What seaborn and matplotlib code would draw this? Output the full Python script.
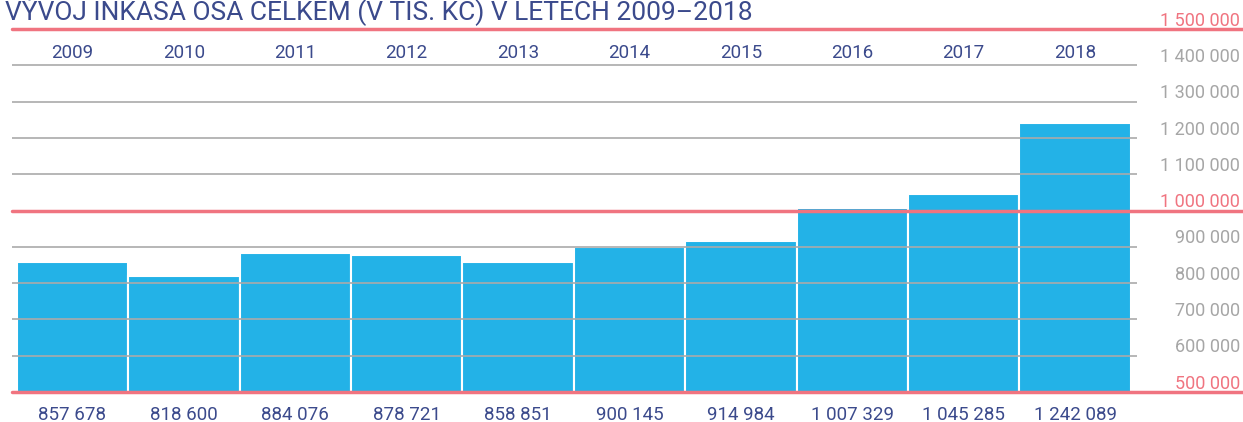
import matplotlib
matplotlib.use("Agg")
import matplotlib.pyplot as plt
import matplotlib.transforms as mtransforms
import seaborn as sns
import pandas as pd

years = ["2009", "2010", "2011", "2012", "2013", "2014", "2015", "2016", "2017", "2018"]
values = [857678, 818600, 884076, 878721, 858851, 900145, 914984, 1007329, 1045285, 1242089]
value_labels = ["857 678", "818 600", "884 076", "878 721", "858 851", "900 145",
                "914 984", "1 007 329", "1 045 285", "1 242 089"]
y_ticks = [500000, 600000, 700000, 800000, 900000, 1000000, 1100000, 1200000, 1300000, 1400000, 1500000]
y_tick_labels = ["500 000", "600 000", "700 000", "800 000", "900 000", "1 000 000",
                 "1 100 000", "1 200 000", "1 300 000", "1 400 000", "1 500 000"]
title = "VÝVOJ INKASA OSA CELKEM (V TIS. KČ) V LETECH 2009–2018"

sns.set_style("white")
plt.rcParams['font.family'] = ['Roboto', 'DejaVu Sans']

BLUE = "#23b2e7"
NAVY = "#3b4a8c"
RED = "#f07480"
GRAY = "#aaaaaa"

W, H = 1243, 422
fig = plt.figure(figsize=(W / 100, H / 100), dpi=100)
ax_left, ax_right = 12, 1137
ax_top, ax_bottom = 29, 392
ax = fig.add_axes([ax_left / W, (H - ax_bottom) / H, (ax_right - ax_left) / W, (ax_bottom - ax_top) / H])

df = pd.DataFrame({"year": years, "value": values})
sns.barplot(data=df, x="year", y="value", color=BLUE, saturation=1, width=1.0,
            edgecolor="white", linewidth=1.5, ax=ax, zorder=1)

ax.set_xlim(-0.543, 9.556)
ax.set_ylim(500000, 1500000)
for s in ax.spines.values():
    s.set_visible(False)
ax.set_xticks([])
ax.set_yticks([])
ax.set_xlabel("")
ax.set_ylabel("")

xmax_ext = (W - ax_left) / (ax_right - ax_left)
trans = mtransforms.blended_transform_factory(fig.transFigure, ax.transData)
for v, lab in zip(y_ticks, y_tick_labels):
    major = v % 500000 == 0
    if major:
        ax.axhline(v, xmin=0, xmax=xmax_ext, color=RED, lw=2.5, clip_on=False, zorder=3)
    else:
        ax.axhline(v, xmin=0, xmax=1, color=GRAY, lw=1.2, zorder=2)
    ax.text(1240 / W, v + 23000, lab, transform=trans, ha="right", va="center",
            fontsize=13, color=RED if major else "#a6a6a6", clip_on=False)

for i, (yr, lab) in enumerate(zip(years, value_labels)):
    ax.text(i, 1435000, yr, ha="center", va="center", fontsize=13.5, color=NAVY)
    ax.text(i, 438000, lab, ha="center", va="center", fontsize=13.5, color=NAVY, clip_on=False)

fig.text(5 / W, (H - 19) / H, title, ha="left", va="baseline", fontsize=19, color=NAVY)

fig.savefig("out.png", dpi=100)
